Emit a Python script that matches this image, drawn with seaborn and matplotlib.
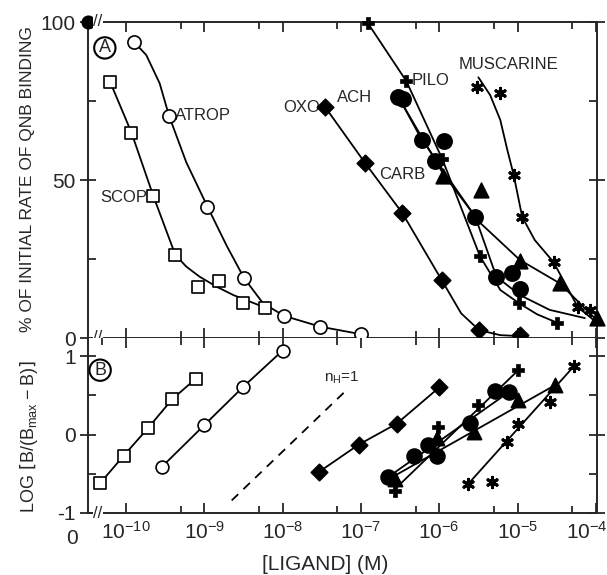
import numpy as np
import matplotlib
matplotlib.use("Agg")
import matplotlib.pyplot as plt
import matplotlib.transforms as mtransforms
import seaborn as sns

# x values are log10 [ligand] (M); the zero-concentration point sits on the broken left edge
ZERO_X = -10.485
X_RIGHT = -3.985

# ---- panel A: % of initial rate of QNB binding (points) ----
scop_x = [-10.20, -9.93, -9.65, -9.37, -9.08, -8.81, -8.50, -8.22]
scop_y = [80.9, 65.0, 44.9, 26.3, 16.0, 18.0, 11.2, 9.4]
atrop_x = [-9.90, -9.45, -8.96, -8.49, -7.98, -7.52, -7.00]
atrop_y = [93.8, 70.3, 41.6, 18.9, 7.0, 3.6, 1.2]
oxo_x = [-7.46, -6.95, -6.47, -5.97, -5.49, -4.97]
oxo_y = [73.2, 55.5, 39.5, 18.4, 2.5, 0.9]
pilo_x = [-6.91, -6.42, -5.96, -5.48, -4.98, -4.49]
pilo_y = [99.6, 81.3, 56.6, 25.9, 11.0, 4.8]
ach_x = [-6.52, -6.46, -6.22, -5.94, -6.05, -5.54, -5.27, -5.07, -4.97]
ach_y = [76.4, 75.6, 62.7, 62.4, 56.1, 38.4, 19.4, 20.5, 15.4]
carb_x = [-5.95, -5.46, -4.97, -4.46, -3.99]
carb_y = [51.3, 46.8, 24.5, 17.5, 6.2]
musc_x = [-5.52, -5.22, -5.05, -4.94, -4.54, -4.23, -4.07]
musc_y = [79.3, 77.6, 51.7, 38.3, 24.0, 9.8, 9.0]

# ---- panel A: drawn curves ----
scop_cx = [-10.20, -9.93, -9.65, -9.37, -9.23, -9.06, -8.84, -8.63, -8.20]
scop_cy = [80.9, 65.0, 44.9, 26.3, 22.6, 19.4, 16.2, 13.6, 9.4]
atrop_cx = [-9.90, -9.74, -9.57, -9.45, -9.23, -8.96, -8.71, -8.49, -8.25, -7.98, -7.52, -7.00]
atrop_cy = [93.8, 89.5, 80.6, 70.3, 55.6, 41.6, 29.0, 18.9, 11.0, 7.0, 3.6, 1.2]
oxo_cx = [-7.46, -6.95, -6.47, -5.97, -5.72, -5.49, -5.22, -4.97]
oxo_cy = [73.2, 55.5, 39.5, 18.4, 7.8, 2.5, 0.9, 0.6]
pilo_cx = [-6.91, -6.42, -5.96, -5.48, -5.22, -4.98, -4.75, -4.49]
pilo_cy = [99.6, 81.3, 56.6, 25.9, 15.2, 11.0, 7.5, 4.8]
ach_cx = [-6.52, -6.25, -5.95, -5.54, -5.27, -4.97, -4.59, -4.14]
ach_cy = [76.3, 64.0, 53.0, 38.4, 19.4, 13.6, 8.9, 6.3]
carb_cx = [-6.50, -5.95, -5.48, -4.97, -4.46, -3.99]
carb_cy = [75.3, 52.0, 36.5, 24.7, 17.3, 5.7]
musc_cx = [-5.50, -5.35, -5.22, -5.13, -5.05, -4.94, -4.78, -4.54, -4.23, -4.00]
musc_cy = [82.5, 76.9, 69.0, 59.5, 51.7, 38.3, 31.0, 24.0, 9.8, 5.1]

# ---- panel B: log[B/(Bmax-B)] ----
scop_bx = [-10.33, -10.03, -9.72, -9.41, -9.11]
scop_by = [-0.62, -0.27, 0.08, 0.45, 0.71]
atrop_bx = [-9.54, -9.00, -8.50, -8.00]
atrop_by = [-0.41, 0.12, 0.61, 1.07]
oxo_bx = [-7.54, -7.03, -6.54, -6.00]
oxo_by = [-0.48, -0.13, 0.14, 0.60]
ach_bx = [-6.65, -6.32, -6.14, -6.03, -5.61, -5.29, -5.11]
ach_by = [-0.54, -0.27, -0.13, -0.27, 0.15, 0.56, 0.54]
pilo_bx = [-6.57, -6.01, -5.51, -4.99]
pilo_by = [-0.72, 0.09, 0.38, 0.82]
carb_bx = [-6.57, -6.03, -5.56, -4.99, -4.52]
carb_by = [-0.57, -0.05, 0.03, 0.44, 0.63]
musc_bx = [-5.63, -5.33, -5.14, -5.00, -4.59, -4.28]
musc_by = [-0.63, -0.60, -0.10, 0.14, 0.41, 0.87]

# fitted lines in panel B (end points)
ach_fx, ach_fy = [-6.65, -5.11], [-0.54, 0.54]
pilo_fx, pilo_fy = [-6.57, -4.99], [-0.70, 0.82]
carb_fx, carb_fy = [-6.63, -4.52], [-0.56, 0.63]
musc_fx, musc_fy = [-5.63, -4.28], [-0.63, 0.87]
nh_x, nh_y = [-8.65, -7.18], [-0.84, 0.57]

decades = [-10, -9, -8, -7, -6, -5, -4]
decade_labels = [r"$\mathregular{10^{%d}}$" % d for d in decades]

sns.set_style("ticks")
plt.rcParams['font.family'] = ['Liberation Sans', 'DejaVu Sans']
plt.rcParams['axes.linewidth'] = 1.4

fig = plt.figure(figsize=(6.07, 5.75), dpi=100)
axA = fig.add_axes([88 / 607, 237 / 575, 509 / 607, 316 / 575])
axB = fig.add_axes([88 / 607, 62 / 575, 509 / 607, 175 / 575])


def dots(ax, x, y, marker, s, fc='black', lw=1.2):
    sns.scatterplot(x=x, y=y, marker=marker, s=s, color=fc, edgecolor='black',
                    linewidth=lw, ax=ax, zorder=4, clip_on=False, legend=False)


def curve(ax, x, y, **kw):
    sns.lineplot(x=x, y=y, color='black', linewidth=1.3, ax=ax, estimator=None,
                 sort=False, legend=False, **kw)


STAR = (6, 2, 0)

# panel A
for cx, cy in [(scop_cx, scop_cy), (atrop_cx, atrop_cy), (oxo_cx, oxo_cy), (pilo_cx, pilo_cy),
               (ach_cx, ach_cy), (carb_cx, carb_cy), (musc_cx, musc_cy)]:
    curve(axA, cx, cy)
dots(axA, scop_x, scop_y, 's', 75, fc='white')
dots(axA, atrop_x, atrop_y, 'o', 90, fc='white')
dots(axA, oxo_x, oxo_y, 'D', 70)
dots(axA, ach_x, ach_y, 'o', 120)
dots(axA, carb_x, carb_y, '^', 110)
dots(axA, pilo_x, pilo_y, 'P', 80, lw=0.5)
dots(axA, musc_x, musc_y, STAR, 55, lw=2.2)
dots(axA, [ZERO_X], [100], 'o', 80)

# panel B
for fx, fy in [(scop_bx, scop_by), (atrop_bx, atrop_by), (oxo_bx, oxo_by), (ach_fx, ach_fy),
               (pilo_fx, pilo_fy), (carb_fx, carb_fy), (musc_fx, musc_fy)]:
    curve(axB, fx, fy)
curve(axB, nh_x, nh_y, linestyle=(0, (5, 4)))
dots(axB, scop_bx, scop_by, 's', 70, fc='white')
dots(axB, atrop_bx, atrop_by, 'o', 85, fc='white')
dots(axB, oxo_bx, oxo_by, 'D', 70)
dots(axB, ach_bx, ach_by, 'o', 115)
dots(axB, carb_bx, carb_by, '^', 105)
dots(axB, pilo_bx, pilo_by, 'P', 80, lw=0.5)
dots(axB, musc_bx, musc_by, STAR, 55, lw=2.2)

# axes
minors = [np.log10(5) + d for d in range(-11, -4)]
for ax in (axA, axB):
    ax.set_xlim(ZERO_X, X_RIGHT)
    ax.set_xticks(decades)
    ax.set_xticks(minors, minor=True)
    ax.tick_params(axis='x', which='both', direction='in', top=True, bottom=True, width=1.3)
    ax.tick_params(axis='x', which='major', length=7)
    ax.tick_params(axis='x', which='minor', length=5)
    ax.tick_params(axis='y', which='both', right=True, left=True, width=1.3, labelsize=15, pad=3)
    ax.tick_params(axis='y', which='major', direction='inout', length=12)
    ax.tick_params(axis='y', which='minor', direction='in', length=6)
    ax.set_xlabel('')
    ax.set_ylabel('')
    for sp in ax.spines.values():
        sp.set_visible(True)

axA.set_ylim(0, 100)
axA.set_yticks([0, 50, 100])
axA.set_yticklabels(['0', '50', '100'])
axA.set_yticks([25, 75], minor=True)
axA.tick_params(axis='x', labelbottom=False)

axB.set_ylim(-1, 1.23)
axB.set_yticks([-1, 0, 1])
axB.set_yticklabels(['-1', '0', '1'])
axB.set_yticks([-0.5, 0.5], minor=True)
axB.set_xticklabels(decade_labels, fontsize=15)
axB.tick_params(axis='x', pad=6)
axB.spines['top'].set_visible(False)
# keep the last decade label inside the figure, as in the original
last = axB.get_xticklabels()[-1]
last.set_transform(last.get_transform() + mtransforms.ScaledTranslation(-9 / 100, 0, fig.dpi_scale_trans))


# axis breaks
def brk(ax, yfrac):
    tr = mtransforms.blended_transform_factory(ax.transData, ax.transAxes)
    ax.text(-10.36, yfrac, "//", transform=tr, ha='center', va='center', fontsize=12,
            bbox=dict(fc='white', ec='none', pad=0.4), zorder=6, clip_on=False)


brk(axA, 1.0)
brk(axA, 0.0)
brk(axB, 0.0)

trB = mtransforms.blended_transform_factory(axB.transData, axB.transAxes)
axB.text(-10.69, -0.143, "0", transform=trB, ha='center', va='center', fontsize=15)

# labels in panel A
fs = 12
axA.text(-9.73, 44.6, "SCOP", ha='right', va='center', fontsize=fs)
axA.text(-9.37, 70.3, "ATROP", ha='left', va='center', fontsize=fs)
axA.text(-7.52, 73.1, "OXO", ha='right', va='center', fontsize=fs)
axA.text(-6.35, 81.6, "PILO", ha='left', va='center', fontsize=fs)
axA.text(-5.11, 86.4, "MUSCARINE", ha='center', va='center', fontsize=fs)
axA.annotate("ACH", xy=(-6.56, 76.0), xytext=(-6.86, 76.0), ha='right', va='center',
             fontsize=fs, arrowprops=dict(arrowstyle='-', lw=1.2, shrinkA=0, shrinkB=0))
axA.annotate("CARB", xy=(-5.99, 51.6), xytext=(-6.18, 51.6), ha='right', va='center',
             fontsize=fs, arrowprops=dict(arrowstyle='-', lw=1.2, shrinkA=0, shrinkB=0))
axA.text(-10.27, 91.8, "A", ha='center', va='center', fontsize=13,
         bbox=dict(boxstyle='circle,pad=0.12', fc='white', ec='black', lw=1.5))
axB.text(-10.33, 0.82, "B", ha='center', va='center', fontsize=13,
         bbox=dict(boxstyle='circle,pad=0.12', fc='white', ec='black', lw=1.5))
axB.text(-7.47, 0.72, r"$\mathregular{n_H}$=1", ha='left', va='center', fontsize=11)

fig.text(28 / 607, 1 - 179 / 575, "% OF INITIAL RATE OF QNB BINDING", rotation=90,
         ha='center', va='center', fontsize=12.5)
fig.text(29 / 607, 1 - 437 / 575, r"LOG $\mathregular{\left[B/(B_{max}-B)\right]}$", rotation=90,
         ha='center', va='center', fontsize=13)
fig.text(325 / 607, 1 - 565 / 575, "[LIGAND] (M)", ha='center', va='center', fontsize=15)

fig.savefig("out.png", dpi=100)
